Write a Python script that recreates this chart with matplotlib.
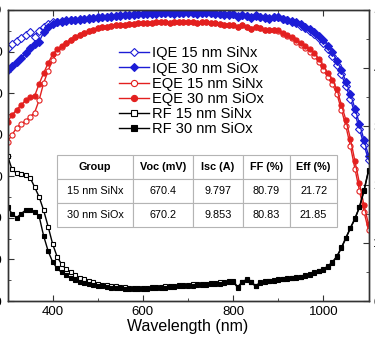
import matplotlib
matplotlib.use("Agg")
import numpy as np
import matplotlib.pyplot as plt
from matplotlib.ticker import MultipleLocator

plt.rcParams["font.family"] = ["Liberation Sans", "DejaVu Sans"]

# wavelength grid (nm)
wavelength = np.arange(300, 1101, 10)

# quantum efficiency (%), left axis
iqe_sinx = [90.9, 91.8, 92.6, 93.3, 94.0, 94.6, 93.6, 95.0, 96.0, 96.7,
            97.0, 97.2, 97.3, 97.5, 97.6, 97.7, 97.8, 97.9, 98.0, 98.1,
            98.2, 98.3, 98.4, 98.5, 98.6, 98.7, 98.8, 98.9, 99.0, 99.1,
            99.1, 99.2, 99.2, 99.2, 99.3, 99.3, 99.3, 99.2, 99.3, 99.3,
            99.4, 99.3, 99.2, 99.3, 99.4, 99.3, 99.2, 99.1, 99.0, 99.0,
            99.1, 98.5, 98.9, 98.6, 98.2, 98.7, 98.4, 98.2, 98.0, 98.3,
            98.2, 97.8, 97.5, 97.2, 96.8, 96.2, 95.6, 94.9, 94.2, 93.2,
            92.0, 90.6, 89.0, 86.8, 84.5, 81.6, 78.6, 75.0, 71.4, 67.5,
            64.0]
iqe_siox = [85.6, 86.6, 87.5, 88.5, 89.6, 90.8, 91.9, 92.4, 94.6, 95.9,
            96.6, 97.0, 97.2, 97.4, 97.5, 97.6, 97.7, 97.8, 97.9, 98.0,
            98.1, 98.2, 98.3, 98.4, 98.5, 98.6, 98.7, 98.8, 98.9, 99.0,
            99.0, 99.1, 99.1, 99.1, 99.2, 99.2, 99.2, 99.1, 99.2, 99.2,
            99.3, 99.2, 99.1, 99.2, 99.3, 99.2, 99.1, 99.0, 98.9, 98.9,
            99.0, 98.4, 98.8, 98.5, 98.1, 98.6, 98.3, 98.1, 97.9, 98.2,
            98.2, 97.9, 97.6, 97.4, 97.1, 96.6, 96.0, 95.4, 94.7, 93.8,
            92.7, 91.4, 89.8, 87.8, 85.5, 82.8, 79.8, 76.3, 72.6, 68.8,
            65.0]
eqe_sinx = [68.3, 70.0, 71.6, 72.6, 73.3, 74.3, 75.3, 78.3, 82.4, 85.4,
            88.0, 89.8, 91.0, 92.0, 92.8, 93.5, 94.0, 94.5, 94.9, 95.3,
            95.6, 95.8, 96.0, 96.2, 96.3, 96.4, 96.5, 96.6, 96.7, 96.8,
            96.9, 96.9, 96.9, 97.0, 97.0, 97.0, 96.9, 97.0, 97.0, 97.1,
            97.1, 97.0, 96.9, 97.0, 97.1, 96.9, 96.8, 96.7, 96.5, 96.4,
            96.5, 95.9, 96.3, 95.9, 95.5, 96.0, 95.6, 95.3, 95.1, 95.3,
            95.0, 94.3, 93.8, 93.2, 92.4, 91.6, 90.8, 90.0, 89.0, 87.4,
            85.6, 83.8, 82.2, 79.8, 76.0, 72.0, 67.2, 61.8, 56.5, 51.5,
            47.0]
eqe_siox = [73.1, 74.7, 76.0, 77.1, 78.3, 79.0, 79.3, 82.2, 84.8, 87.2,
            89.3, 90.5, 91.3, 92.1, 92.8, 93.5, 94.0, 94.5, 94.9, 95.3,
            95.6, 95.8, 96.0, 96.2, 96.3, 96.4, 96.5, 96.6, 96.7, 96.8,
            96.9, 96.9, 96.9, 97.0, 97.0, 97.0, 96.9, 97.0, 97.0, 97.1,
            97.1, 97.0, 96.9, 97.0, 97.1, 96.9, 96.8, 96.7, 96.5, 96.4,
            96.5, 95.9, 96.3, 95.9, 95.5, 96.0, 95.6, 95.3, 95.1, 95.3,
            95.1, 94.5, 94.1, 93.6, 92.8, 92.0, 91.3, 90.5, 89.6, 88.2,
            86.5, 84.8, 83.2, 80.9, 77.2, 73.5, 69.0, 63.6, 58.3, 53.0,
            48.5]

# reflectance (%), right axis
rf_sinx = [25.0, 22.6, 22.0, 21.8, 21.6, 21.2, 19.6, 17.9, 15.6, 12.8,
           9.8, 7.6, 6.3, 5.5, 4.9, 4.4, 4.0, 3.7, 3.4, 3.2,
           3.0, 2.8, 2.7, 2.6, 2.5, 2.4, 2.35, 2.3, 2.3, 2.3,
           2.3, 2.3, 2.35, 2.4, 2.45, 2.5, 2.55, 2.6, 2.7, 2.75,
           2.8, 2.85, 2.9, 2.95, 3.0, 3.1, 3.15, 3.2, 3.3, 3.4,
           3.5, 2.4, 3.3, 3.7, 3.3, 2.6, 3.2, 3.4, 3.5, 3.6,
           3.7, 3.8, 3.9, 4.0, 4.1, 4.2, 4.4, 4.6, 4.9, 5.2,
           5.5, 6.0, 6.7, 7.7, 9.2, 10.9, 12.6, 14.2, 16.2, 19.0,
           22.5]
rf_siox = [16.2, 15.0, 14.3, 15.0, 15.6, 15.6, 15.3, 14.6, 11.2, 8.6,
           6.7, 5.6, 4.9, 4.4, 4.0, 3.6, 3.3, 3.1, 2.9, 2.7,
           2.6, 2.5, 2.4, 2.3, 2.2, 2.15, 2.1, 2.05, 2.05, 2.05,
           2.1, 2.1, 2.15, 2.2, 2.25, 2.3, 2.35, 2.4, 2.5, 2.55,
           2.6, 2.65, 2.7, 2.75, 2.8, 2.9, 2.95, 3.0, 3.1, 3.2,
           3.3, 2.3, 3.2, 3.6, 3.2, 2.5, 3.1, 3.3, 3.4, 3.5,
           3.6, 3.7, 3.8, 3.9, 4.0, 4.1, 4.3, 4.5, 4.8, 5.1,
           5.4, 5.9, 6.6, 7.6, 9.1, 10.8, 12.5, 14.1, 16.1, 18.9,
           22.3]

# solar cell parameters
table_cols = ["Group", "Voc (mV)", "Isc (A)", "FF (%)", "Eff (%)"]
table_rows = [["15 nm SiNx", "670.4", "9.797", "80.79", "21.72"],
              ["30 nm SiOx", "670.2", "9.853", "80.83", "21.85"]]

blue = "#1c1cd6"
red = "#e3201f"

fig = plt.figure(figsize=(3.75, 3.4), dpi=100)
ax = fig.add_axes([7.5 / 375, 1 - 301 / 340, 361 / 375, 291 / 340])
ax2 = ax.twinx()

style = dict(lw=1.0, mew=0.8)
h1, = ax.plot(wavelength, iqe_sinx, "-D", color=blue, ms=3.6, mfc="white",
              label="IQE 15 nm SiNx", **style)
h2, = ax.plot(wavelength, iqe_siox, "-D", color=blue, ms=3.6,
              label="IQE 30 nm SiOx", **style)
h3, = ax.plot(wavelength, eqe_sinx, "-o", color=red, ms=3.7, mfc="white",
              label="EQE 15 nm SiNx", **style)
h4, = ax.plot(wavelength, eqe_siox, "-o", color=red, ms=3.7,
              label="EQE 30 nm SiOx", **style)
h5, = ax2.plot(wavelength, rf_sinx, "-s", color="black", ms=3.5, mfc="white",
               label="RF 15 nm SiNx", **style)
h6, = ax2.plot(wavelength, rf_siox, "-s", color="black", ms=3.5,
               label="RF 30 nm SiOx", **style)

ax.set_xlim(300, 1100)
ax.set_ylim(30, 100)
ax2.set_ylim(0, 50)
ax.set_xticks([400, 600, 800, 1000])
ax.xaxis.set_minor_locator(MultipleLocator(100))
ax.yaxis.set_major_locator(MultipleLocator(10))
ax.yaxis.set_minor_locator(MultipleLocator(5))
ax2.yaxis.set_major_locator(MultipleLocator(10))
ax2.yaxis.set_minor_locator(MultipleLocator(5))

ax.tick_params(which="both", direction="in", top=True, labelsize=9.5,
               color="#333333")
ax.tick_params(which="major", length=4)
ax.tick_params(which="minor", length=2.5)
ax2.tick_params(which="both", direction="in", labelsize=9.5, color="#333333")
ax2.tick_params(which="major", length=4)
ax2.tick_params(which="minor", length=2.5)
for a in (ax, ax2):
    for s in a.spines.values():
        s.set_color("#333333")
        s.set_linewidth(1.0)

ax.set_xlabel("Wavelength (nm)", fontsize=11.5, labelpad=1)

ax2.legend(handles=[h1, h2, h3, h4, h5, h6], loc="upper left",
           bbox_to_anchor=(0.29, 0.90), frameon=False, fontsize=10.5,
           borderpad=0, labelspacing=0.08, handlelength=2.0,
           handletextpad=0.2, markerscale=1.2)

tbl = ax2.table(cellText=table_rows, colLabels=table_cols,
                colWidths=[76, 60, 50, 47, 47], cellLoc="center",
                bbox=[0.137, 0.254, 0.776, 0.248])
tbl.auto_set_font_size(False)
tbl.set_fontsize(7.8)
tbl.set_zorder(5)
for (r, c), cell in tbl.get_celld().items():
    cell.set_edgecolor("#b4b4b4")
    cell.set_linewidth(0.8)
    cell.set_facecolor("white")
    if r == 0:
        cell.get_text().set_fontweight("bold")

fig.savefig("out.png", dpi=100)
